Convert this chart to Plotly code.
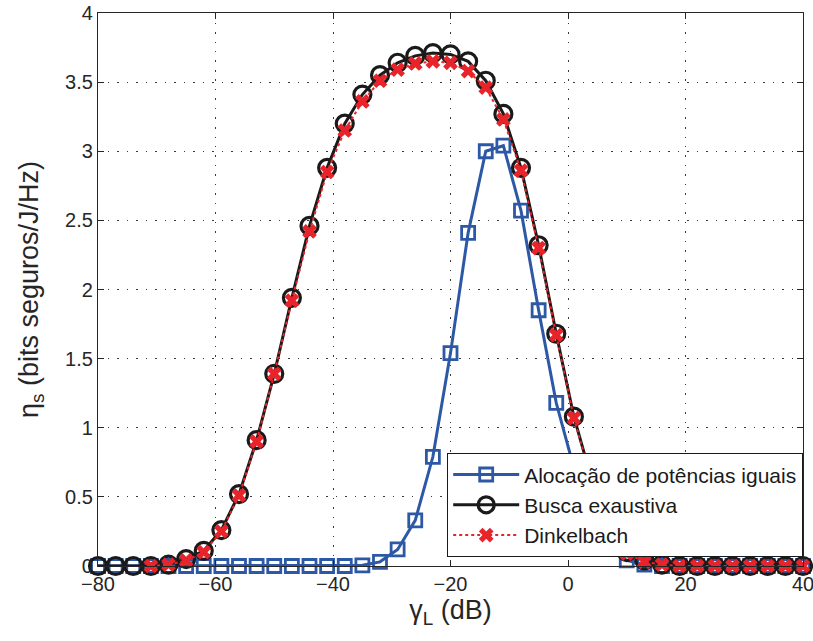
import plotly.graph_objects as go

# Transmit SNR gamma_L in dB (step of 3 dB)
gamma_db = list(range(-80, 41, 3))

# Secrecy energy efficiency (bits seguros/J/Hz)
potencias_iguais = [0, 0, 0, 0, 0, 0, 0, 0, 0, 0, 0, 0, 0, 0, 0,
                    0.005, 0.03, 0.12, 0.33, 0.79, 1.54, 2.41, 3.00, 3.04,
                    2.57, 1.85, 1.18, 0.71, 0.35, 0.13, 0.04, 0.01,
                    0, 0, 0, 0, 0, 0, 0, 0, 0]

busca_exaustiva = [0, 0, 0, 0, 0.01, 0.05, 0.11, 0.26, 0.52, 0.91, 1.39,
                   1.94, 2.46, 2.88, 3.20, 3.41, 3.55, 3.64, 3.69, 3.71,
                   3.70, 3.65, 3.51, 3.27, 2.88, 2.32, 1.68, 1.08, 0.63,
                   0.28, 0.10, 0.04, 0.01, 0, 0, 0, 0, 0, 0, 0, 0]

dinkelbach = [None, None, None, 0, 0.01, 0.04, 0.10, 0.25, 0.51, 0.90, 1.39,
              1.92, 2.42, 2.85, 3.15, 3.36, 3.51, 3.59, 3.635, 3.65,
              3.64, 3.58, 3.46, 3.23, 2.86, 2.30, 1.67, 1.07, 0.62,
              0.27, 0.09, 0.03, 0.01, 0, 0, 0, 0, 0, 0, 0, 0]

x_ticks = [-80, -60, -40, -20, 0, 20, 40]
y_ticks = [0, 0.5, 1, 1.5, 2, 2.5, 3, 3.5, 4]

BLUE = "#2D58A6"
BLACK = "#1A1A1A"
RED = "#E8232A"
TEXT = "#262626"
FONT = "Liberation Sans, Arial, Helvetica, sans-serif"

fig = go.Figure()

fig.add_trace(go.Scatter(
    x=gamma_db, y=potencias_iguais, mode="lines+markers",
    name="Alocação de potências iguais",
    line=dict(color=BLUE, width=3),
    marker=dict(symbol="square-open", size=13, color=BLUE,
                line=dict(width=2.8, color=BLUE)),
    cliponaxis=False,
))

fig.add_trace(go.Scatter(
    x=gamma_db, y=busca_exaustiva, mode="lines+markers",
    name="Busca exaustiva",
    line=dict(color=BLACK, width=3),
    marker=dict(symbol="circle-open", size=17, color=BLACK,
                line=dict(width=3.2, color=BLACK)),
    cliponaxis=False,
))

fig.add_trace(go.Scatter(
    x=gamma_db, y=dinkelbach, mode="lines+markers",
    name="Dinkelbach",
    line=dict(color=RED, width=2, dash="dot"),
    marker=dict(symbol="x", size=13, color=RED, line=dict(width=0)),
    connectgaps=False,
    cliponaxis=False,
))

tick_font = dict(family=FONT, size=20, color=TEXT)
title_font = dict(family=FONT, size=27, color=TEXT)
grid_style = dict(showgrid=True, gridcolor="#3a3a3a", gridwidth=1,
                  griddash="1.5px,8px")
frame_style = dict(showline=True, linecolor=TEXT, linewidth=1.2,
                   mirror="ticks", ticks="inside", ticklen=6,
                   tickcolor=TEXT, zeroline=False, automargin=False,
                   ticklabeloverflow="allow")

fig.update_xaxes(
    range=[-80, 40], tickvals=x_ticks, tickfont=tick_font,
    title=dict(text="γ<sub>L</sub> (dB)", font=title_font, standoff=0),
    **grid_style, **frame_style,
)
fig.update_yaxes(
    range=[0, 4], tickvals=y_ticks, tickfont=tick_font,
    title=dict(text="η<sub>s</sub> (bits seguros/J/Hz)", font=title_font,
               standoff=18),
    **grid_style, **frame_style,
)

fig.update_layout(
    width=813, height=641,
    margin=dict(l=98, r=10, t=13, b=75),
    paper_bgcolor="white", plot_bgcolor="white",
    showlegend=True,
    legend=dict(
        x=1.0, y=0.016, xanchor="right", yanchor="bottom",
        bgcolor="white", bordercolor=BLACK, borderwidth=1.2,
        font=dict(family=FONT, size=21, color=BLACK),
        tracegroupgap=0, itemwidth=66,
    ),
)

fig.write_html("out.html")
